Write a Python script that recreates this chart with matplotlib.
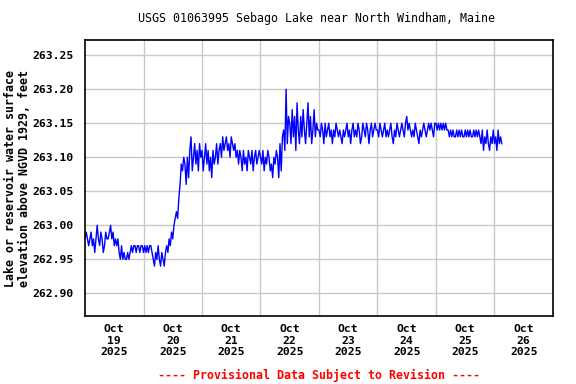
# USGS style lake elevation plot - Sebago Lake, Oct 19-26 2025
import pandas as pd
import matplotlib
matplotlib.use("Agg")
import matplotlib.pyplot as plt
import matplotlib.dates as mdates

# ------------------ DATA (30-min values, hundredths of ft above 263.00) ------------------
oct19 = [-2, -1, -2, -3, -2, -1, -3, -2, -4, -2,
         0, -2, -3, -1, -2, -4, -3, -1, -2, -2,
         -1, 0, -2, -1, -3, -2, -3, -2,
         -4, -5, -3, -5, -4, -5, -5, -4, -5, -4,
         -3, -4, -3, -3, -4, -3, -3, -4, -3, -3]
oct20 = [-4, -3, -4, -3, -4, -3, -3,
         -4, -5, -6, -4, -5, -3, -5, -6, -4, -5, -6, -4,
         -3, -4, -2, -3,
         -1, -2, 0,
         1, 2, 1,
         4, 6, 9, 8, 10,
         9, 6, 10, 7, 11, 13, 8, 10, 12, 9, 11, 8, 12, 10]
oct21 = [11, 8, 10, 12, 9, 11, 8, 10, 7, 11, 9, 10, 12, 9,
         11, 12, 10, 13, 11, 12, 13, 11, 12, 10, 13, 12, 11, 12, 10, 11,
         9, 11, 10, 8, 11, 9, 10, 8, 11, 10, 9, 11, 8, 10, 11, 9, 10, 11]
oct22 = [10, 9, 11, 8, 10, 9, 11, 10, 8, 9, 7, 10, 9, 11, 10,
         7, 12, 8, 13,
         14, 11, 20, 12, 16,
         15, 12, 17, 13, 16, 11, 18, 14, 12, 16, 13, 17,
         14, 12, 15, 18, 13, 16, 12, 14, 17, 13, 15, 14]
oct23 = [14, 13, 15, 14, 12, 15, 13, 14, 15, 13, 14, 12,
         14, 13, 15, 14, 13, 14, 13, 12, 14, 13, 14, 15,
         13, 14, 12, 14, 15, 13, 14, 13, 15, 14, 12, 13,
         15, 14, 13, 15, 14, 12, 14, 15, 13, 14, 15, 14]
oct24 = [14, 13, 15, 14, 13, 14, 15, 13, 14, 13, 14, 15,
         13, 12, 14, 13, 15, 14, 13, 14, 15, 14, 13, 15,
         16, 14, 15, 14, 13, 14, 13, 15, 14, 13, 12, 14,
         13, 14, 15, 14, 13, 14, 15, 14, 15, 14, 13, 15]
oct25 = [15, 14, 15, 14, 15, 14, 15, 14, 15, 14,
         14, 13, 14, 13, 14, 13, 13, 14, 13, 14, 13, 14, 13,
         13, 14, 13, 14, 13, 14, 13, 13, 14, 13, 14, 13, 14,
         13, 12, 14, 11, 13, 12, 14, 12, 11, 13, 12, 14]
oct26 = [12, 13, 11, 14, 12, 13, 12]

base_level = 263.00
y_ticks = [262.90, 262.95, 263.00, 263.05, 263.10, 263.15, 263.20, 263.25]
day_labels = ["Oct\n19\n2025", "Oct\n20\n2025", "Oct\n21\n2025", "Oct\n22\n2025",
              "Oct\n23\n2025", "Oct\n24\n2025", "Oct\n25\n2025", "Oct\n26\n2025"]

vals = oct19 + oct20 + oct21 + oct22 + oct23 + oct24 + oct25 + oct26
times = pd.date_range("2025-10-19 00:00", periods=len(vals), freq="30min")
level = pd.Series([base_level + v / 100 for v in vals], index=times)

# ------------------ PLOT ------------------
mono = "DejaVu Sans Mono"
fig = plt.figure(figsize=(5.76, 3.84), dpi=100)
ax = fig.add_axes([0.1476, 0.177, 0.8124, 0.72])

ax.plot(level.index, level.values, color="#0000ff", lw=1.0)

start = pd.Timestamp("2025-10-19")
ax.set_xlim(start, start + pd.Timedelta(days=8))
ax.set_ylim(262.8666, 263.273)

# labels at noon, grid at midnight
noon = [start + pd.Timedelta(days=i, hours=12) for i in range(8)]
midnight = [start + pd.Timedelta(days=i) for i in range(1, 8)]
ax.set_xticks(noon)
ax.set_xticklabels(day_labels, fontfamily=mono, fontweight="bold", fontsize=8.2,
                   linespacing=1.15)
ax.set_xticks(midnight, minor=True)
ax.tick_params(axis="x", which="both", length=0, pad=6)
ax.grid(True, axis="x", which="minor", color="#c8c8c8", lw=1)

ax.set_yticks(y_ticks)
ax.set_yticklabels(["%.2f" % t for t in y_ticks], fontfamily=mono,
                   fontweight="bold", fontsize=8.2)
ax.tick_params(axis="y", length=0, pad=8)
ax.grid(True, axis="y", which="major", color="#c8c8c8", lw=1)

for s in ax.spines.values():
    s.set_linewidth(1.2)
    s.set_color("black")

fig.text(0.55, 0.952, "USGS 01063995 Sebago Lake near North Windham, Maine",
         ha="center", va="center", fontfamily=mono, fontsize=8.4)
fig.text(0.03, 0.535, "Lake or reservoir water surface\nelevation above NGVD 1929, feet",
         ha="center", va="center", rotation=90, fontfamily=mono,
         fontweight="bold", fontsize=8.4, linespacing=1.1)
fig.text(0.553, 0.023, "---- Provisional Data Subject to Revision ----",
         ha="center", va="center", color="red", fontfamily=mono,
         fontweight="bold", fontsize=8.4)

fig.savefig("out.png", dpi=100)
